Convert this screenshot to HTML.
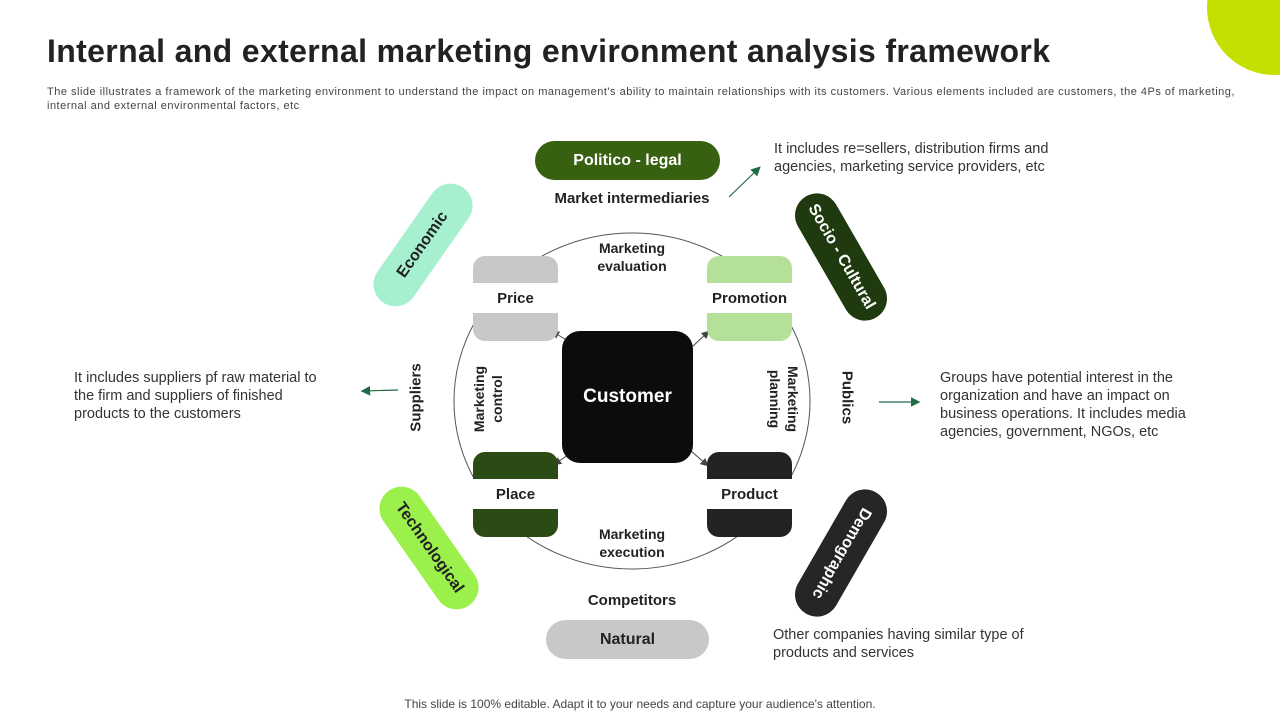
<!DOCTYPE html>
<html><head><meta charset="utf-8"><style>
*{margin:0;padding:0;box-sizing:border-box}
body{width:1280px;height:720px;position:relative;overflow:hidden;background:#fff;font-family:"Liberation Sans",sans-serif;color:#222}
.a{position:absolute}
.t{font-weight:bold;font-size:15px;color:#222;text-align:center;white-space:nowrap}
.pill{position:absolute;border-radius:24px;display:flex;align-items:center;justify-content:center;font-weight:bold;font-size:16px;white-space:nowrap}
.box{position:absolute;width:85px;height:85px;border-radius:12px}
.band{position:absolute;left:0;top:27px;width:85px;height:30px;background:#fff;display:flex;align-items:center;justify-content:center;font-weight:bold;font-size:15px;color:#222}
.desc{position:absolute;font-size:14.5px;color:#333;line-height:18px}
</style></head><body>
<div class="a" style="left:1207px;top:-60px;width:135px;height:135px;border-radius:50%;background:#c5e000"></div>
<div class="a" style="left:47px;top:33px;font-size:32px;font-weight:bold;letter-spacing:0.35px;color:#222;white-space:nowrap">Internal and external marketing environment analysis framework</div>
<div class="a" style="left:47px;top:85px;width:1200px;font-size:11px;line-height:14px;letter-spacing:0.5px;color:#444"><span style="white-space:nowrap">The slide illustrates a framework of the marketing environment to understand the impact on management's ability to maintain relationships with its customers. Various elements included are customers, the 4Ps of marketing,</span><br>internal and external environmental factors, etc</div>

<svg class="a" style="left:0;top:0" width="1280" height="720">
<defs><marker id="ag" markerWidth="8" markerHeight="8" refX="6" refY="4" orient="auto"><path d="M0,0 L8,4 L0,8z" fill="#1f6b46"/></marker>
<marker id="ad" markerWidth="8" markerHeight="8" refX="6" refY="4" orient="auto"><path d="M0,0 L8,4 L0,8z" fill="#444"/></marker></defs>
<ellipse cx="632" cy="401" rx="178" ry="168" fill="none" stroke="#555" stroke-width="1"/>
<line x1="729" y1="197" x2="759" y2="168" stroke="#1f6b46" stroke-width="1.2" marker-end="url(#ag)"/>
<line x1="398" y1="390" x2="363" y2="391" stroke="#1f6b46" stroke-width="1.2" marker-end="url(#ag)"/>
<line x1="879" y1="402" x2="918" y2="402" stroke="#1f6b46" stroke-width="1.2" marker-end="url(#ag)"/>
<line x1="570" y1="342" x2="553" y2="332" stroke="#444" stroke-width="1" marker-end="url(#ad)"/>
<line x1="693" y1="346" x2="708" y2="332" stroke="#444" stroke-width="1" marker-end="url(#ad)"/>
<line x1="568" y1="455" x2="555" y2="464" stroke="#444" stroke-width="1" marker-end="url(#ad)"/>
<line x1="690" y1="450" x2="707" y2="465" stroke="#444" stroke-width="1" marker-end="url(#ad)"/>
</svg>

<div class="box" style="left:473px;top:256px;background:#c8c8c8"><div class="band">Price</div></div>
<div class="box" style="left:707px;top:256px;background:#b5e09a"><div class="band">Promotion</div></div>
<div class="box" style="left:473px;top:452px;background:#2c4a14"><div class="band">Place</div></div>
<div class="box" style="left:707px;top:452px;background:#232323"><div class="band">Product</div></div>
<div class="a" style="left:562px;top:331px;width:131px;height:132px;border-radius:18px;background:#0c0c0c;color:#fff;font-weight:bold;font-size:19px;display:flex;align-items:center;justify-content:center">Customer</div>

<div class="pill" style="left:535px;top:141px;width:185px;height:39px;background:#376010;color:#fff">Politico - legal</div>
<div class="pill" style="left:546px;top:620px;width:163px;height:39px;background:#c8c8c8;color:#222">Natural</div>
<div class="pill" style="left:353px;top:223px;width:140px;height:44px;background:#a6efcf;color:#222;transform:rotate(-55deg)">Economic</div>
<div class="pill" style="left:771px;top:235px;width:140px;height:44px;background:#1e3a0e;color:#fff;transform:rotate(60deg)">Socio - Cultural</div>
<div class="pill" style="left:359px;top:526px;width:140px;height:44px;background:#9cf04c;color:#222;transform:rotate(55deg)">Technological</div>
<div class="pill" style="left:771px;top:531px;width:140px;height:44px;background:#262626;color:#fff;transform:rotate(120deg)">Demographic</div>

<div class="a t" style="left:532px;top:190px;width:200px;font-size:15px">Market intermediaries</div>
<div class="a t" style="left:532px;top:592px;width:200px">Competitors</div>
<div class="a t" style="left:560px;top:239px;width:144px;font-size:14px;line-height:18px">Marketing<br>evaluation</div>
<div class="a t" style="left:560px;top:525px;width:144px;font-size:14px;line-height:18px">Marketing<br>execution</div>
<div class="a t" style="left:356px;top:389px;width:120px;transform:rotate(-90deg)">Suppliers</div>
<div class="a t" style="left:787px;top:389px;width:120px;transform:rotate(90deg)">Publics</div>
<div class="a t" style="left:418px;top:381px;width:140px;font-size:14px;line-height:18px;transform:rotate(-90deg)">Marketing<br>control</div>
<div class="a t" style="left:714px;top:381px;width:140px;font-size:14px;line-height:18px;transform:rotate(90deg)">Marketing<br>planning</div>

<div class="desc" style="left:774px;top:140px;width:300px">It includes re=sellers, distribution firms and agencies, marketing service providers, etc</div>
<div class="desc" style="left:74px;top:369px;width:255px">It includes suppliers pf raw material to the firm and suppliers of finished products to the customers</div>
<div class="desc" style="left:940px;top:369px;width:270px">Groups have potential interest in the organization and have an impact on business operations. It includes media agencies, government, NGOs, etc</div>
<div class="desc" style="left:773px;top:626px;width:290px">Other companies having similar type of products and services</div>
<div class="a" style="left:0;top:697px;width:1280px;text-align:center;font-size:12px;color:#444">This slide is 100% editable. Adapt it to your needs and capture your audience's attention.</div>
</body></html>
